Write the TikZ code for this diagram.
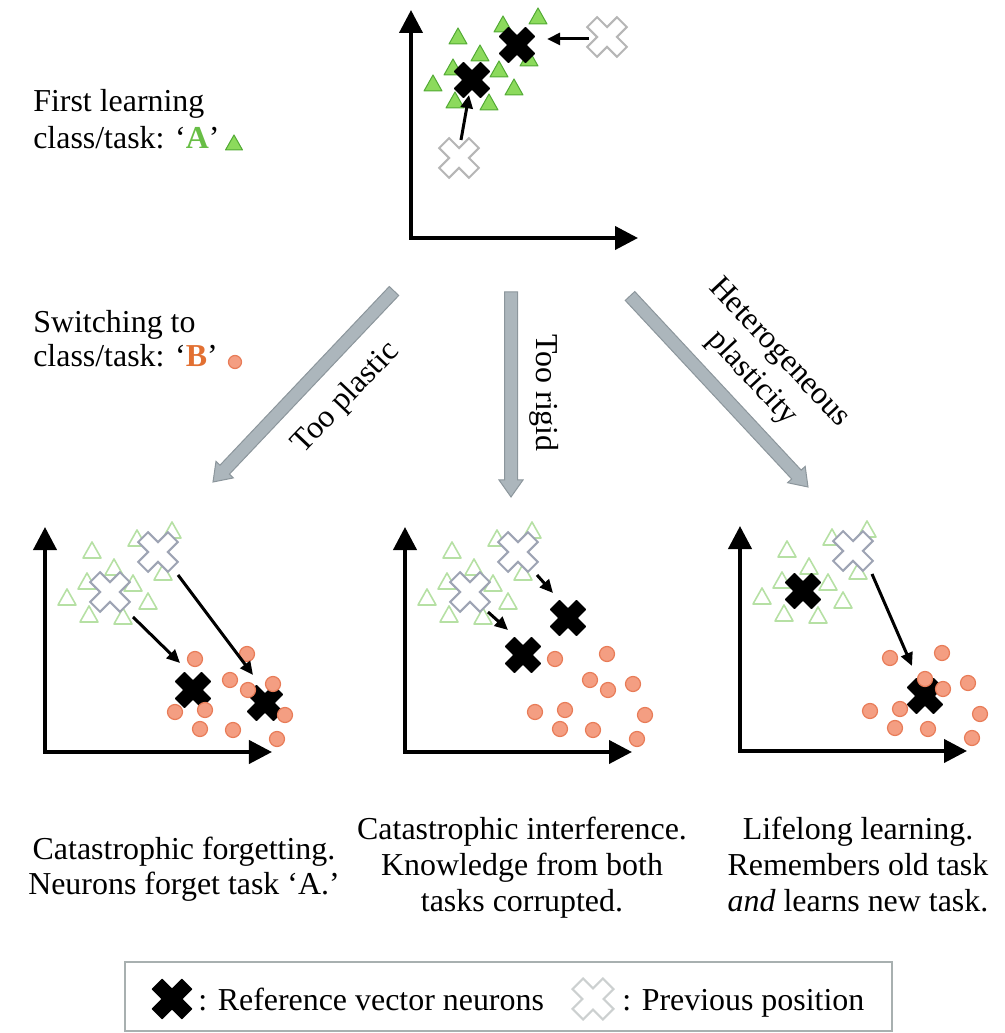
\documentclass[tikz,border=0pt]{standalone}
\usepackage{fontspec}
\setmainfont{Liberation Serif}
\usetikzlibrary{arrows.meta,calc}

\definecolor{triFill}{RGB}{140,218,92}
\definecolor{triLine}{RGB}{82,170,52}
\definecolor{triPale}{RGB}{182,224,164}
\definecolor{dotFill}{RGB}{244,158,130}
\definecolor{dotLine}{RGB}{232,124,88}
\definecolor{ghostTop}{RGB}{182,182,182}
\definecolor{ghostLow}{RGB}{158,164,180}
\definecolor{ghostKey}{RGB}{204,208,208}
\definecolor{bigFill}{RGB}{172,182,188}
\definecolor{bigLine}{RGB}{140,150,156}
\definecolor{keyFrame}{RGB}{168,176,176}
\definecolor{labA}{RGB}{104,190,70}
\definecolor{labB}{RGB}{226,112,50}

% thick grey arrow drawn as an outlined polygon from #1 to #2
\newcommand\grayshaft[3]{%
  \coordinate (#3h) at ($(#2)!0.425cm!(#1)$);
  \path[bigarrow] ($(#1)!0.1625cm!90:(#2)$) -- ($(#3h)!0.1625cm!-90:(#1)$)
    -- ($(#3h)!0.3cm!-90:(#1)$) -- (#2) -- ($(#3h)!0.3cm!90:(#1)$)
    -- ($(#3h)!0.1625cm!90:(#1)$) -- ($(#1)!0.1625cm!-90:(#2)$) -- cycle;
}

% point patterns shared by the plots (offsets from the plot origin)
\def\triset{47/199,92/211,127/219,69/182,42/168,88/166,118/177,22/152,103/148,44/135,78/133}
\def\dotset{150/93,202/98,185/72,203/62,228/68,130/40,160/42,155/23,188/22,240/37,232/13}

\tikzset{
  txt/.style={font=\fontsize{22.7}{26.5}\selectfont, inner sep=0pt},
  plotaxes/.style={line width=0.1cm,
    {Triangle[length=0.575cm,width=0.575cm]}-{Triangle[length=0.575cm,width=0.575cm]}},
  shiftarrow/.style={line width=0.075cm, -{Triangle[length=0.33cm,width=0.3cm]}},
  toptri/.style={fill=triFill, draw=triLine, line width=0.025cm, line join=round},
  paletri/.style={draw=triPale, line width=0.04cm, line join=round},
  bdot/.style={fill=dotFill, draw=dotLine, line width=0.03cm},
  ghostT/.style={fill=white, draw=ghostTop, line width=0.05cm},
  ghostB/.style={fill=white, draw=ghostLow, line width=0.05cm},
  blackx/.style={fill=black, rounded corners=0.5pt},
  bigarrow/.style={fill=bigFill, draw=bigLine, line width=0.025cm, line join=miter},
  tri/.pic={\path[pic actions] (0,11) -- (9,-5) -- (-9,-5) -- cycle;},
  smalltri/.pic={\path[pic actions] (0,8) -- (8.5,-7) -- (-8.5,-7) -- cycle;},
  solidx/.pic={\path[pic actions, rotate=45] (7,19) -- (7,7) -- (19,7) -- (19,-7)
    -- (7,-7) -- (7,-19) -- (-7,-19) -- (-7,-7) -- (-19,-7) -- (-19,7) -- (-7,7)
    -- (-7,19) -- cycle;},
  ghostx/.pic={\path[pic actions, rotate=45] (7,21) -- (7,7) -- (21,7) -- (21,-7)
    -- (7,-7) -- (7,-21) -- (-7,-21) -- (-7,-7) -- (-21,-7) -- (-21,7) -- (-7,7)
    -- (-7,21) -- cycle;},
  keyx/.pic={\path[pic actions, rotate=45] (7.5,21.5) -- (7.5,7.5) -- (21.5,7.5)
    -- (21.5,-7.5) -- (7.5,-7.5) -- (7.5,-21.5) -- (-7.5,-21.5) -- (-7.5,-7.5)
    -- (-21.5,-7.5) -- (-21.5,7.5) -- (-7.5,7.5) -- (-7.5,21.5) -- cycle;},
}

\begin{document}
\begin{tikzpicture}[x=0.025cm,y=0.025cm]
\useasboundingbox (0,0) rectangle (1005,1033);

% ---- task labels on the left
\node[txt, anchor=base west] (first1) at (33,921) {First learning};
\node[txt, anchor=base west] (first2) at (33,884) {class/task: ‘{\bfseries\color{labA}A}’};
\pic[toptri] at (234,890) {smalltri};
\node[txt, anchor=base west] (switch1) at (33,700) {Switching to};
\node[txt, anchor=base west] (switch2) at (33,666) {class/task: ‘{\bfseries\color{labB}B}’};
\path[bdot] (235,671) circle[radius=6.5];

% ---- first task: neurons settle on the triangles
\begin{scope}[shift={(411,795)}]
  \draw[plotaxes] (0,228) -- (0,0) -- (227,0);
  \foreach \x/\y in \triset {\pic[toptri] at (\x,\y) {tri};}
  \pic[blackx] at (61,158) {solidx};
  \pic[blackx] at (106,193) {solidx};
  \pic[ghostT] at (196,201) {ghostx};
  \pic[ghostT] at (48,80) {ghostx};
  \coordinate (t1a) at (178,199); \coordinate (t1b) at (136,199);
  \coordinate (t2a) at (50,98);   \coordinate (t2b) at (58,143);
  \draw[shiftarrow] (t1a) -- (t1b);
  \draw[shiftarrow] (t2a) -- (t2b);
\end{scope}

% ---- three kinds of adaptation
\coordinate (gLs) at (394,742); \coordinate (gLe) at (213,551);
\coordinate (gMs) at (511,741); \coordinate (gMe) at (511,536);
\coordinate (gRs) at (630,737); \coordinate (gRe) at (808,546);
\grayshaft{gLs}{gLe}{gL}
\grayshaft{gMs}{gMe}{gM}
\grayshaft{gRs}{gRe}{gR}
\node[txt, rotate=46.5] (lplastic) at (346,635) {Too plastic};
\node[txt, rotate=-90] (lrigid) at (544,640) {Too rigid};
\node[txt, rotate=-47, align=center] (lhetero) at (765,667) {Heterogeneous\\plasticity};

% ---- too plastic
\begin{scope}[shift={(45,281)}]
  \draw[plotaxes] (0,225) -- (0,0) -- (227,0);
  \foreach \x/\y in \triset {\pic[paletri] at (\x,\y) {tri};}
  \pic[ghostB] at (65,160) {ghostx};
  \pic[ghostB] at (113,200) {ghostx};
  \pic[blackx] at (148,62) {solidx};
  \pic[blackx] at (220,49) {solidx};
  \foreach \x/\y in \dotset {\path[bdot] (\x,\y) circle[radius=7.5];}
  \coordinate (l1a) at (88,135);  \coordinate (l1b) at (135,89);
  \coordinate (l2a) at (133,177); \coordinate (l2b) at (208,77);
  \draw[shiftarrow] (l1a) -- (l1b);
  \draw[shiftarrow] (l2a) -- (l2b);
\end{scope}

% ---- too rigid
\begin{scope}[shift={(405,281)}]
  \draw[plotaxes] (0,225) -- (0,0) -- (227,0);
  \foreach \x/\y in \triset {\pic[paletri] at (\x,\y) {tri};}
  \pic[ghostB] at (65,160) {ghostx};
  \pic[ghostB] at (113,200) {ghostx};
  \pic[blackx] at (118,97) {solidx};
  \pic[blackx] at (163,134) {solidx};
  \foreach \x/\y in \dotset {\path[bdot] (\x,\y) circle[radius=7.5];}
  \coordinate (m1a) at (83,140);  \coordinate (m1b) at (103,122);
  \coordinate (m2a) at (132,177); \coordinate (m2b) at (148,159);
  \draw[shiftarrow] (m1a) -- (m1b);
  \draw[shiftarrow] (m2a) -- (m2b);
\end{scope}

% ---- heterogeneous plasticity
\begin{scope}[shift={(740,282)}]
  \draw[plotaxes] (0,225) -- (0,0) -- (227,0);
  \foreach \x/\y in \triset {\pic[paletri] at (\x,\y) {tri};}
  \pic[ghostB] at (113,200) {ghostx};
  \pic[blackx] at (63,160) {solidx};
  \pic[blackx] at (185,55) {solidx};
  \foreach \x/\y in \dotset {\path[bdot] (\x,\y) circle[radius=7.5];}
  \coordinate (r1a) at (132,177); \coordinate (r1b) at (172,85);
  \draw[shiftarrow] (r1a) -- (r1b);
\end{scope}

% ---- outcomes
\node[txt, anchor=base] (capL1) at (184,173) {Catastrophic forgetting.};
\node[txt, anchor=base] (capL2) at (184,138) {Neurons forget task ‘A.’};
\node[txt, anchor=base] (capM1) at (522,193) {Catastrophic interference.};
\node[txt, anchor=base] (capM2) at (522,157) {Knowledge from both};
\node[txt, anchor=base] (capM3) at (522,121) {tasks corrupted.};
\node[txt, anchor=base] (capR1) at (858,193) {Lifelong learning.};
\node[txt, anchor=base] (capR2) at (858,157) {Remembers old task};
\node[txt, anchor=base] (capR3) at (858,121) {\textit{and} learns new task.};

% ---- key
\draw[draw=keyFrame, line width=0.0625cm] (125,2) rectangle (892,71);
\pic[blackx] at (172,34) {keyx};
\node[txt, anchor=base west] (keyref) at (198,23) {: Reference vector neurons};
\pic[fill=white, draw=ghostKey, line width=0.05cm] at (593,34) {keyx};
\node[txt, anchor=base west] (keyprev) at (622,23) {: Previous position};
\end{tikzpicture}
\end{document}
